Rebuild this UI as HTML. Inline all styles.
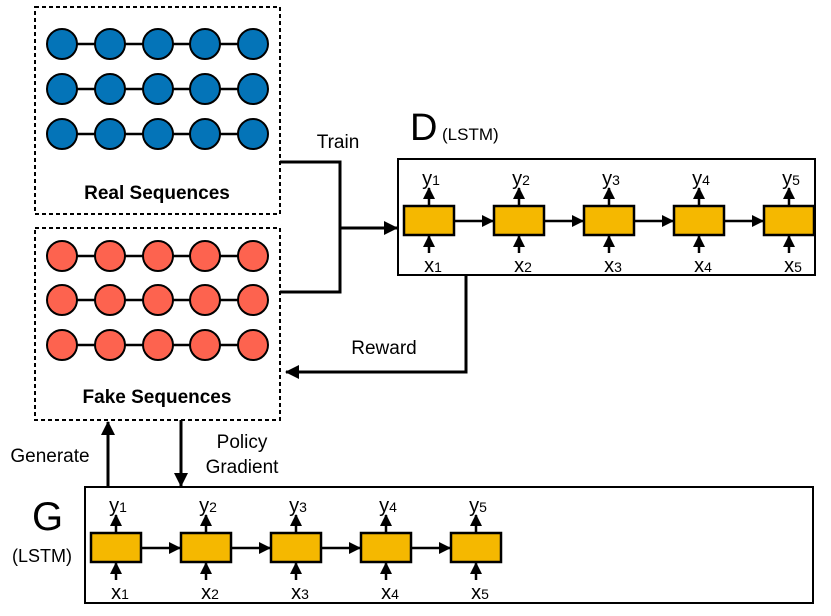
<!DOCTYPE html>
<html><head><meta charset="utf-8"><style>
html,body{margin:0;padding:0;background:#fff;}
svg{display:block;font-family:"Liberation Sans",Arial,sans-serif;}
</style></head><body>
<svg width="831" height="616" viewBox="0 0 831 616" xmlns="http://www.w3.org/2000/svg">
<defs>
<marker id="a" markerWidth="12" markerHeight="12" refX="11" refY="6" orient="auto" markerUnits="userSpaceOnUse"><path d="M0,0 L12,6 L0,12 z" fill="#000"/></marker>
<marker id="b" markerWidth="14" markerHeight="14" refX="13" refY="7" orient="auto" markerUnits="userSpaceOnUse"><path d="M0,0 L14,7 L0,14 z" fill="#000"/></marker>
</defs>
<rect x="35" y="7" width="245" height="207" fill="none" stroke="#000" stroke-width="2" stroke-dasharray="4,3"/>
<rect x="35" y="228" width="245" height="192" fill="none" stroke="#000" stroke-width="2" stroke-dasharray="4,3"/>
<g stroke="#000" stroke-width="2">
<line x1="62" y1="44" x2="253" y2="44" stroke-width="2.5"/>
<line x1="62" y1="89" x2="253" y2="89" stroke-width="2.5"/>
<line x1="62" y1="134" x2="253" y2="134" stroke-width="2.5"/>
<line x1="62" y1="256" x2="253" y2="256" stroke-width="2.5"/>
<line x1="62" y1="300" x2="253" y2="300" stroke-width="2.5"/>
<line x1="62" y1="345" x2="253" y2="345" stroke-width="2.5"/>
<g fill="#0474b8">
<circle cx="62" cy="44" r="15"/><circle cx="110" cy="44" r="15"/><circle cx="158" cy="44" r="15"/><circle cx="205" cy="44" r="15"/><circle cx="253" cy="44" r="15"/>
<circle cx="62" cy="89" r="15"/><circle cx="110" cy="89" r="15"/><circle cx="158" cy="89" r="15"/><circle cx="205" cy="89" r="15"/><circle cx="253" cy="89" r="15"/>
<circle cx="62" cy="134" r="15"/><circle cx="110" cy="134" r="15"/><circle cx="158" cy="134" r="15"/><circle cx="205" cy="134" r="15"/><circle cx="253" cy="134" r="15"/>
</g>
<g fill="#fd634f">
<circle cx="62" cy="256" r="15"/><circle cx="110" cy="256" r="15"/><circle cx="158" cy="256" r="15"/><circle cx="205" cy="256" r="15"/><circle cx="253" cy="256" r="15"/>
<circle cx="62" cy="300" r="15"/><circle cx="110" cy="300" r="15"/><circle cx="158" cy="300" r="15"/><circle cx="205" cy="300" r="15"/><circle cx="253" cy="300" r="15"/>
<circle cx="62" cy="345" r="15"/><circle cx="110" cy="345" r="15"/><circle cx="158" cy="345" r="15"/><circle cx="205" cy="345" r="15"/><circle cx="253" cy="345" r="15"/>
</g>
</g>
<text x="157" y="199" font-size="19" font-weight="bold" text-anchor="middle">Real Sequences</text>
<text x="157" y="403" font-size="19" font-weight="bold" text-anchor="middle">Fake Sequences</text>
<polyline points="280,162 340,162 340,292 280,292" fill="none" stroke="#000" stroke-width="3"/>
<line x1="340" y1="228" x2="397" y2="228" stroke="#000" stroke-width="3" marker-end="url(#b)"/>
<text x="338" y="148" font-size="19" text-anchor="middle">Train</text>
<text x="410" y="140" font-size="38">D</text>
<text x="442" y="140" font-size="17">(LSTM)</text>
<rect x="398" y="159" width="417" height="116" fill="none" stroke="#000" stroke-width="2"/>
<polyline points="466,275 466,372 286,372" fill="none" stroke="#000" stroke-width="3" marker-end="url(#b)"/>
<text x="384" y="354" font-size="19" text-anchor="middle">Reward</text>
<line x1="108" y1="487" x2="108" y2="422" stroke="#000" stroke-width="3" marker-end="url(#b)"/>
<line x1="181" y1="420" x2="181" y2="486" stroke="#000" stroke-width="3" marker-end="url(#b)"/>
<text x="50" y="462" font-size="19" text-anchor="middle">Generate</text>
<text x="242" y="448" font-size="19" text-anchor="middle">Policy</text>
<text x="242" y="473" font-size="19" text-anchor="middle">Gradient</text>
<text x="32" y="530" font-size="40">G</text>
<text x="12" y="562" font-size="18">(LSTM)</text>
<rect x="85" y="487" width="728" height="116" fill="none" stroke="#000" stroke-width="2"/>
<g font-size="20" text-anchor="middle">
<g stroke="#000" stroke-width="2.5">
<line x1="454" y1="221" x2="493" y2="221" marker-end="url(#a)"/>
<line x1="544" y1="221" x2="583" y2="221" marker-end="url(#a)"/>
<line x1="634" y1="221" x2="673" y2="221" marker-end="url(#a)"/>
<line x1="724" y1="221" x2="763" y2="221" marker-end="url(#a)"/>
<line x1="429" y1="206" x2="429" y2="188" marker-end="url(#a)"/><line x1="429" y1="253" x2="429" y2="236" marker-end="url(#a)"/>
<line x1="519" y1="206" x2="519" y2="188" marker-end="url(#a)"/><line x1="519" y1="253" x2="519" y2="236" marker-end="url(#a)"/>
<line x1="609" y1="206" x2="609" y2="188" marker-end="url(#a)"/><line x1="609" y1="253" x2="609" y2="236" marker-end="url(#a)"/>
<line x1="699" y1="206" x2="699" y2="188" marker-end="url(#a)"/><line x1="699" y1="253" x2="699" y2="236" marker-end="url(#a)"/>
<line x1="789" y1="206" x2="789" y2="188" marker-end="url(#a)"/><line x1="789" y1="253" x2="789" y2="236" marker-end="url(#a)"/>
</g>
<g fill="#f5b800" stroke="#000" stroke-width="2.5">
<rect x="404" y="206" width="50" height="29"/><rect x="494" y="206" width="50" height="29"/><rect x="584" y="206" width="50" height="29"/><rect x="674" y="206" width="50" height="29"/><rect x="764" y="206" width="50" height="29"/>
</g>
<text x="431" y="185">y<tspan font-size="14">1</tspan></text><text x="521" y="185">y<tspan font-size="14">2</tspan></text><text x="611" y="185">y<tspan font-size="14">3</tspan></text><text x="701" y="185">y<tspan font-size="14">4</tspan></text><text x="791" y="185">y<tspan font-size="14">5</tspan></text>
<text x="433" y="272">x<tspan font-size="14">1</tspan></text><text x="523" y="272">x<tspan font-size="14">2</tspan></text><text x="613" y="272">x<tspan font-size="14">3</tspan></text><text x="703" y="272">x<tspan font-size="14">4</tspan></text><text x="793" y="272">x<tspan font-size="14">5</tspan></text>
<g stroke="#000" stroke-width="2.5">
<line x1="141" y1="548" x2="180" y2="548" marker-end="url(#a)"/>
<line x1="231" y1="548" x2="270" y2="548" marker-end="url(#a)"/>
<line x1="321" y1="548" x2="360" y2="548" marker-end="url(#a)"/>
<line x1="411" y1="548" x2="450" y2="548" marker-end="url(#a)"/>
<line x1="116" y1="533" x2="116" y2="515" marker-end="url(#a)"/><line x1="116" y1="580" x2="116" y2="563" marker-end="url(#a)"/>
<line x1="206" y1="533" x2="206" y2="515" marker-end="url(#a)"/><line x1="206" y1="580" x2="206" y2="563" marker-end="url(#a)"/>
<line x1="296" y1="533" x2="296" y2="515" marker-end="url(#a)"/><line x1="296" y1="580" x2="296" y2="563" marker-end="url(#a)"/>
<line x1="386" y1="533" x2="386" y2="515" marker-end="url(#a)"/><line x1="386" y1="580" x2="386" y2="563" marker-end="url(#a)"/>
<line x1="476" y1="533" x2="476" y2="515" marker-end="url(#a)"/><line x1="476" y1="580" x2="476" y2="563" marker-end="url(#a)"/>
</g>
<g fill="#f5b800" stroke="#000" stroke-width="2.5">
<rect x="91" y="533" width="50" height="29"/><rect x="181" y="533" width="50" height="29"/><rect x="271" y="533" width="50" height="29"/><rect x="361" y="533" width="50" height="29"/><rect x="451" y="533" width="50" height="29"/>
</g>
<text x="118" y="512">y<tspan font-size="14">1</tspan></text><text x="208" y="512">y<tspan font-size="14">2</tspan></text><text x="298" y="512">y<tspan font-size="14">3</tspan></text><text x="388" y="512">y<tspan font-size="14">4</tspan></text><text x="478" y="512">y<tspan font-size="14">5</tspan></text>
<text x="120" y="599">x<tspan font-size="14">1</tspan></text><text x="210" y="599">x<tspan font-size="14">2</tspan></text><text x="300" y="599">x<tspan font-size="14">3</tspan></text><text x="390" y="599">x<tspan font-size="14">4</tspan></text><text x="480" y="599">x<tspan font-size="14">5</tspan></text>
</g>
</svg>
</body></html>
